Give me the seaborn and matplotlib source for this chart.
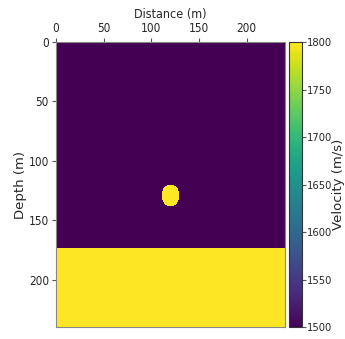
import numpy as np
import matplotlib
matplotlib.use("Agg")
import matplotlib.pyplot as plt
import seaborn as sns

# Model description
nx = 240                  # grid width (m)
nz = 240                  # grid depth (m)
v_background = 1500       # m/s
v_anomaly = 1800          # m/s
v_layer = 1800            # m/s
layer_top = 173           # depth of lower layer (m)
anomaly_x = 120           # anomaly centre, distance (m)
anomaly_z = 129           # anomaly centre, depth (m)
anomaly_r = 9.5           # anomaly radius (m)

x_ticks = [0, 50, 100, 150, 200]
y_ticks = [0, 50, 100, 150, 200]
cbar_ticks = [1500, 1550, 1600, 1650, 1700, 1750, 1800]

# Build velocity grid
zz, xx = np.mgrid[0:nz, 0:nx] + 0.5
vel = np.full((nz, nx), float(v_background))
vel[(xx - anomaly_x) ** 2 + (zz - anomaly_z) ** 2 <= anomaly_r ** 2] = v_anomaly
vel[zz >= layer_top] = v_layer

sns.set_style("white")
plt.rcParams["font.family"] = ["DejaVu Sans"]
plt.rcParams["font.stretch"] = "condensed"

fig = plt.figure(figsize=(3.45, 3.39), dpi=100)
ax = fig.add_axes([0.162, 0.035, 0.664, 0.841])
cax = fig.add_axes([0.838, 0.035, 0.036, 0.841])

sns.heatmap(vel, ax=ax, cbar_ax=cax, cmap="viridis", vmin=1500, vmax=1800,
            xticklabels=False, yticklabels=False,
            cbar_kws={"ticks": cbar_ticks})

ax.set_xlim(0, nx)
ax.set_ylim(nz, 0)
ax.set_xticks(x_ticks)
ax.set_xticklabels([str(t) for t in x_ticks])
ax.set_yticks(y_ticks)
ax.set_yticklabels([str(t) for t in y_ticks], rotation=0)
ax.xaxis.tick_top()
ax.xaxis.set_label_position("top")
ax.tick_params(axis="both", labelsize=8.5, length=3, width=0.8, color="#555555",
               left=True, top=True, bottom=False, pad=2)
ax.set_xlabel("Distance (m)", fontsize=9, labelpad=3)
ax.set_ylabel("Depth (m)", fontsize=9.5, fontstretch="normal", labelpad=1)
for s in ax.spines.values():
    s.set_visible(True)
    s.set_color("#888888")
    s.set_linewidth(0.8)

cax.tick_params(labelsize=8, length=3, width=0.8, color="#555555", right=True, pad=1)
cax.set_ylabel("Velocity (m/s)", fontsize=9.5, fontstretch="normal", labelpad=0)
cb = ax.collections[0].colorbar
cb.outline.set_visible(True)
cb.outline.set_edgecolor("#333333")
cb.outline.set_linewidth(0.8)

fig.savefig("out.png", dpi=100)
